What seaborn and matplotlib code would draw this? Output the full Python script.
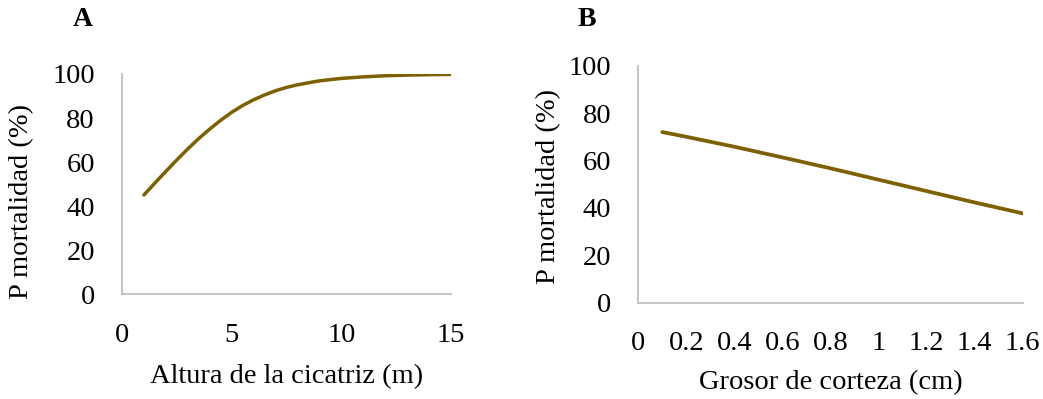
import matplotlib
matplotlib.use("Agg")
import matplotlib.pyplot as plt
import seaborn as sns
import pandas as pd

# Panel A: scar height vs mortality probability
altura_m = [1, 1.5, 2, 2.5, 3, 3.5, 4, 4.5, 5, 5.5, 6, 6.5, 7, 7.5, 8, 9, 10, 11, 12, 13, 14, 15]
mort_a = [45.1, 50.5, 55.8, 61.0, 66.0, 70.7, 75.0, 79.0, 82.6, 85.7, 88.3, 90.5, 92.4, 93.9, 95.1, 96.9, 98.0, 98.7, 99.2, 99.5, 99.7, 99.8]

# Panel B: bark thickness vs mortality probability
grosor_cm = [0.1, 0.2, 0.4, 0.6, 0.8, 1.0, 1.2, 1.4, 1.6]
mort_b = [72.0, 70.0, 65.8, 61.3, 56.7, 51.9, 47.1, 42.3, 37.7]

xticks_a = [0, 5, 10, 15]
xticks_b = [0, 0.2, 0.4, 0.6, 0.8, 1.0, 1.2, 1.4, 1.6]
xticklabels_b = ["0", "0.2", "0.4", "0.6", "0.8", "1", "1.2", "1.4", "1.6"]
yticks = [0, 20, 40, 60, 80, 100]

sns.set_style("white")
plt.rcParams['font.family'] = ['Liberation Serif', 'DejaVu Serif']
plt.rcParams['text.color'] = 'black'
plt.rcParams['axes.labelcolor'] = 'black'

LINE = "#7F6000"
GRAY = "#BFBFBF"
FS = 20.5

fig = plt.figure(figsize=(10.43, 3.99), dpi=100)
W, H = 1043, 399
def rect(l, r, t, b):
    return [l / W, 1 - b / H, (r - l) / W, (b - t) / H]

axA = fig.add_axes(rect(122, 451, 74, 294.3))
axB = fig.add_axes(rect(638.3, 1022.7, 65.7, 302.7))

dfA = pd.DataFrame({"x": altura_m, "y": mort_a})
dfB = pd.DataFrame({"x": grosor_cm, "y": mort_b})
sns.lineplot(data=dfA, x="x", y="y", ax=axA, color=LINE, linewidth=2.5, solid_capstyle="round")
sns.lineplot(data=dfB, x="x", y="y", ax=axB, color=LINE, linewidth=2.7, solid_capstyle="round")

def style(ax, xticks, xlabels, xlab, ylab_coords, xlab_y):
    ax.set_ylim(0, 100)
    ax.set_xlim(xticks[0], xticks[-1])
    ax.set_yticks(yticks)
    ax.set_xticks(xticks)
    ax.set_xticklabels(xlabels)
    for s in ["top", "right"]:
        ax.spines[s].set_visible(False)
    for s in ["left", "bottom"]:
        ax.spines[s].set_color(GRAY)
        ax.spines[s].set_linewidth(1.3)
        ax.spines[s].set_clip_on(False)
    ax.tick_params(axis="both", which="major", direction="out", length=7.5, width=1.3,
                   color=GRAY, labelsize=FS, labelcolor="black")
    ax.tick_params(axis="x", pad=13)
    ax.tick_params(axis="y", pad=12)
    ax.set_xlabel(xlab, fontsize=FS, color="black")
    ax.set_ylabel("P mortalidad (%)", fontsize=FS, color="black")
    ax.yaxis.set_label_coords(*ylab_coords)
    ax.xaxis.set_label_coords(0.5, xlab_y)
    ax.xaxis.label.set_va("center")
    ax.yaxis.label.set_va("center")

style(axA, xticks_a, [str(v) for v in xticks_a], "Altura de la cicatriz (m)", (-0.304, 0.419), -(376.7 - 294.3) / 220.3)
style(axB, xticks_b, xticklabels_b, "Grosor de corteza (cm)", (-0.234, 0.49), -(383 - 302.7) / 237.0)

fig.text(83 / W, 1 - 19.5 / H, "A", fontsize=20, fontweight="bold", ha="center", va="center", color="black")
fig.text(587 / W, 1 - 19.5 / H, "B", fontsize=20, fontweight="bold", ha="center", va="center", color="black")

fig.savefig("out.png", dpi=100)
